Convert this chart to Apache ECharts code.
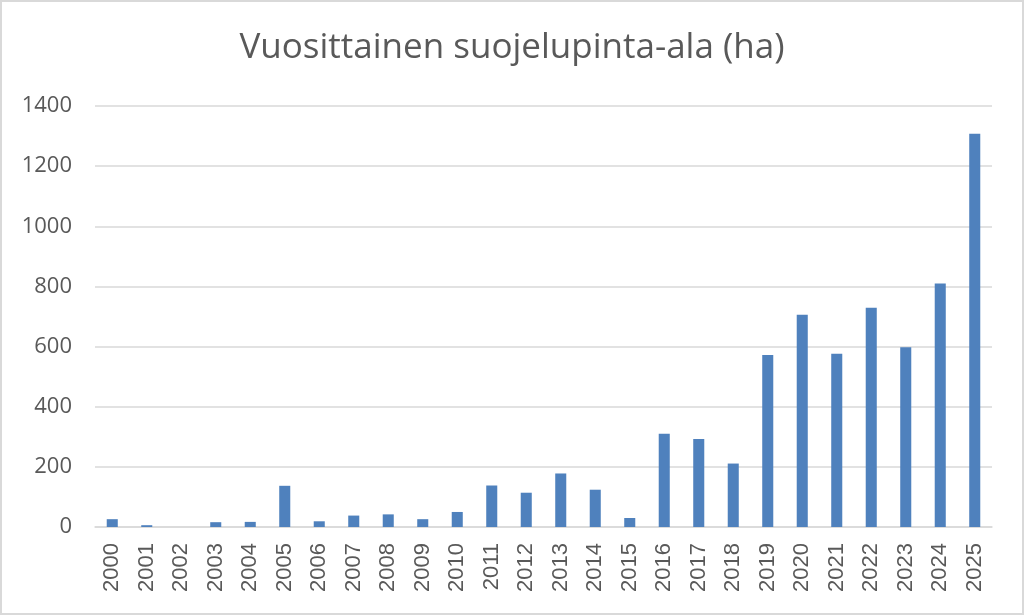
<!DOCTYPE html>
<html>
<head>
<meta charset="utf-8">
<script src="https://cdn.jsdelivr.net/npm/echarts@6/dist/echarts.min.js"></script>
<style>
  html, body { margin: 0; padding: 0; background: #fff; }
  #chart { width: 1020px; height: 611px; border: 2px solid #d9d9d9; }
</style>
</head>
<body>
<div id="chart"></div>
<script>
// vuodet ja pinta-alat (ha)
var years = ['2000','2001','2002','2003','2004','2005','2006','2007','2008','2009',
  '2010','2011','2012','2013','2014','2015','2016','2017','2018','2019',
  '2020','2021','2022','2023','2024','2025'];
var areas = [26, 6, 0, 16, 17, 137, 19, 38, 42, 26,
  50, 138, 114, 178, 124, 30, 310, 293, 211, 572,
  706, 576, 729, 598, 810, 1308];
var yTicks = [0, 200, 400, 600, 800, 1000, 1200, 1400];

;(function(){
  var myChart = echarts.init(document.getElementById('chart'));
  var fontFam = '"Open Sans", "Liberation Sans", sans-serif';

  var option = {
    animation: false,
    title: {
      text: 'Vuosittainen suojelupinta-ala (ha)',
      left: 'center',
      top: 24,
      textStyle: { fontFamily: fontFam, fontSize: 35, fontWeight: 'normal', color: '#595959' }
    },
    grid: { left: 93, right: 30, top: 104, bottom: 86 },
    xAxis: {
      type: 'category',
      data: years,
      axisLine: { lineStyle: { color: '#d9d9d9', width: 1.5 } },
      axisTick: { show: false },
      axisLabel: {
        rotate: 90, fontFamily: '"Liberation Sans", Arial, sans-serif',
        fontSize: 22, color: '#595959', margin: 16
      }
    },
    yAxis: {
      type: 'value',
      min: yTicks[0],
      max: yTicks[yTicks.length - 1],
      interval: 200,
      axisLine: { show: false },
      axisTick: { show: false },
      axisLabel: {
        fontFamily: fontFam, fontSize: 22, color: '#595959', margin: 23,
        formatter: function (v) { return String(v); }
      },
      splitLine: { lineStyle: { color: '#d9d9d9', width: 1.5 } }
    },
    series: [{
      type: 'bar',
      data: areas,
      barWidth: '32%',
      itemStyle: { color: '#4f81bd' }
    }]
  };

  myChart.setOption(option);
})();
</script>
</body>
</html>
